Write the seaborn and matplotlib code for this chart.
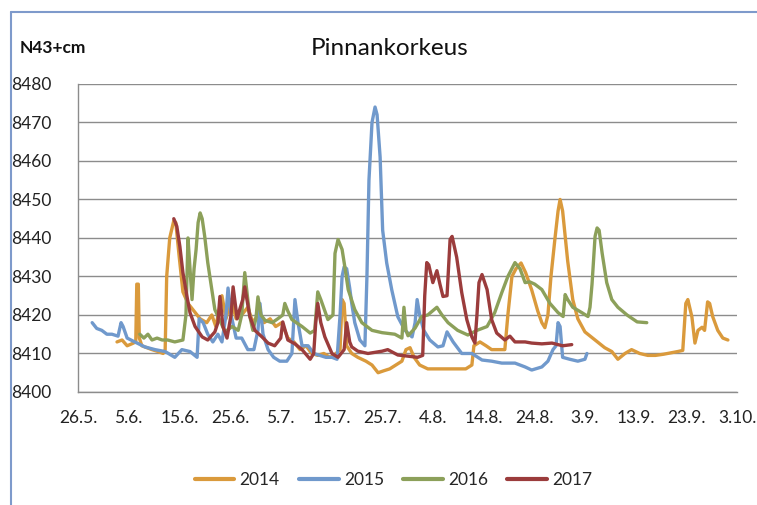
import matplotlib
matplotlib.use("Agg")
import matplotlib.pyplot as plt
from matplotlib.lines import Line2D
import pandas as pd
import seaborn as sns

# days counted from 26.5.
days_2014 = [7.7, 8.7, 9.7, 10.6, 11.4, 11.6, 11.9, 12.1, 12.6, 13.6, 14.6, 15.8, 16.8, 17.2, 17.5, 18.1,
             18.9, 19.3, 19.9, 20.7, 21.7, 22.9, 24.1, 25.4, 26.4, 27.2, 28.4, 29.2, 30.2, 31.2, 32.3, 33.5,
             34.5, 35.5, 36.7, 37.9, 39.0, 40.2, 41.4, 42.6, 43.8, 45.0, 46.1, 47.3, 48.5, 49.7, 50.9, 51.7,
             52.1, 52.5, 53.0, 54.0, 55.2, 56.8, 58.0, 59.2, 60.3, 61.5, 62.7, 63.9, 64.7, 65.5, 66.3, 67.4,
             69.0, 70.6, 72.6, 74.5, 76.5, 77.7, 78.1, 79.3, 80.5, 81.6, 83.2, 84.2, 84.8, 85.6, 86.4, 87.4,
             88.3, 89.5, 90.7, 91.5, 92.1, 92.7, 93.3, 94.1, 94.7, 95.1, 95.6, 96.6, 97.6, 98.6, 100.0, 102.0,
             103.9, 105.3, 106.5, 107.9, 109.2, 110.8, 112.4, 113.9, 115.5, 117.1, 118.3, 119.3, 119.9, 120.3,
             121.1, 121.7, 122.3, 123.1, 123.6, 124.2, 124.6, 125.2, 126.2, 127.2, 128.2]
level_2014 = [8413, 8413.5, 8412, 8412.5, 8413, 8428, 8428, 8414, 8412, 8411.5, 8411, 8410.5, 8410, 8411, 8430, 8440,
              8444.5, 8444, 8436, 8426, 8423, 8421, 8419, 8418, 8420, 8417, 8425, 8419, 8424, 8419, 8420, 8422,
              8418, 8420, 8418, 8419, 8417, 8418, 8414, 8413, 8411, 8412, 8410, 8409.5, 8410, 8409, 8410, 8411,
              8424, 8423, 8412, 8410, 8409, 8408, 8407, 8405, 8405.5, 8406, 8407, 8408, 8411, 8411.5, 8409, 8407,
              8406, 8406, 8406, 8406, 8406, 8407, 8412, 8413, 8412, 8411, 8411, 8411, 8420, 8430, 8432, 8433.5,
              8431, 8426.5, 8421, 8418, 8416.7, 8420, 8430, 8440, 8447, 8450, 8447, 8434, 8424, 8419, 8415.6, 8413.5,
              8411.5, 8410.5, 8408.5, 8410, 8411, 8410, 8409.5, 8409.5, 8409.8, 8410.2, 8410.5, 8410.8, 8423, 8424,
              8419.5, 8412.7, 8416, 8416.8, 8416, 8423.4, 8423, 8419.6, 8416, 8414, 8413.5]

days_2015 = [2.8, 3.7, 4.7, 5.7, 6.7, 7.9, 8.5, 8.9, 9.7, 11.2, 13.2, 15.2, 17.2, 19.1, 20.5, 22.1, 23.5, 23.9,
             24.7, 25.6, 26.6, 27.6, 28.4, 29.2, 29.6, 30.2, 31.2, 32.3, 33.5, 34.7, 35.5, 35.9, 36.5, 37.5,
             38.6, 39.8, 41.2, 42.2, 42.8, 43.4, 44.2, 45.4, 46.5, 47.7, 48.9, 50.1, 51.1, 51.7, 52.1, 52.5,
             53.0, 53.6, 54.0, 54.6, 55.6, 56.6, 57.0, 57.4, 58.0, 58.6, 59.0, 59.6, 60.1, 60.9, 61.9, 63.1,
             64.5, 65.9, 66.5, 66.9, 67.4, 68.2, 69.4, 71.0, 72.0, 72.8, 74.0, 75.7, 77.7, 79.7, 81.6, 83.6,
             86.2, 88.2, 89.5, 91.5, 92.7, 93.7, 94.3, 94.7, 95.1, 95.6, 97.0, 98.6, 100.0, 100.4]
level_2015 = [8418, 8416.5, 8416, 8415, 8415, 8414.5, 8418, 8417, 8414, 8413, 8411.7, 8411, 8410.5, 8409, 8411, 8410.5, 8409, 8419,
              8418, 8415, 8413, 8415, 8413, 8420, 8427, 8420, 8414, 8414, 8411, 8411, 8416, 8423, 8415, 8411,
              8409, 8408, 8408, 8410, 8424, 8418, 8412, 8412, 8410, 8409.5, 8409, 8409, 8408.5, 8420, 8430, 8432.5,
              8432, 8427, 8423, 8418, 8413.5, 8412, 8430, 8455, 8470, 8474, 8472, 8461, 8442, 8433.5, 8426.5, 8419.5,
              8416, 8414.3, 8418, 8424, 8420, 8416, 8413.5, 8411.7, 8412, 8415.6, 8413, 8410, 8410, 8408.3, 8408, 8407.5,
              8407.5, 8406.5, 8405.7, 8406.5, 8408, 8411, 8412, 8418, 8417, 8409, 8408.5, 8408, 8408.5, 8410]

days_2016 = [12.2, 13.0, 13.8, 14.6, 15.6, 16.6, 17.7, 19.1, 20.7, 21.3, 21.7, 22.1, 22.5, 22.9, 23.3, 23.7,
             24.1, 24.5, 25.0, 25.6, 26.4, 27.0, 28.0, 29.0, 30.4, 31.6, 32.3, 32.9, 33.5, 33.9, 34.5, 35.1,
             35.5, 36.1, 36.9, 38.3, 39.4, 40.4, 40.8, 41.4, 42.2, 44.2, 45.8, 46.7, 47.3, 47.9, 49.3, 50.3,
             50.7, 51.3, 52.1, 52.7, 53.3, 54.6, 56.0, 58.0, 60.0, 62.5, 63.9, 64.3, 64.7, 65.1, 66.5, 67.8,
             69.0, 70.8, 71.8, 73.0, 74.9, 76.9, 78.7, 80.7, 82.2, 83.6, 84.8, 86.2, 87.2, 88.2, 89.1, 90.1,
             91.5, 93.1, 94.7, 95.7, 96.1, 96.6, 97.6, 99.4, 100.6, 101.0, 101.4, 102.0, 102.4, 102.8, 103.4, 104.3,
             105.3, 106.5, 108.3, 110.3, 112.2]
level_2016 = [8415, 8414, 8415, 8413.5, 8414, 8413.5, 8413.5, 8413, 8413.5, 8420, 8440, 8432, 8424, 8432, 8437, 8444,
              8446.5, 8445, 8440.4, 8433.6, 8426.6, 8421.4, 8418.6, 8415.6, 8417, 8416, 8420, 8431, 8424, 8419.6, 8416, 8419,
              8424.7, 8420, 8418.6, 8418, 8419, 8420, 8423, 8421, 8418.8, 8417, 8415.3, 8416, 8426, 8424, 8418.8, 8420,
              8436, 8439.6, 8437, 8432, 8426.6, 8421.4, 8418, 8416, 8415.4, 8415, 8414, 8422, 8416, 8414.6, 8416.6, 8419.6,
              8420, 8422, 8420, 8418, 8416, 8414.8, 8416, 8417, 8420.6, 8425.8, 8430, 8433.6, 8432, 8428.4, 8428.6, 8428,
              8426.6, 8423, 8420.6, 8419.6, 8425.3, 8424, 8422, 8420.6, 8419.6, 8422, 8428, 8440.4, 8442.6, 8442, 8436, 8428.4,
              8424, 8422, 8420, 8418.2, 8418]

days_2017 = [18.9, 19.5, 20.1, 20.7, 21.5, 22.1, 23.1, 24.5, 25.6, 27.0, 27.6, 28.0, 28.6, 29.4, 30.2, 30.6,
             31.4, 31.9, 32.5, 32.9, 33.9, 34.9, 36.3, 37.5, 38.8, 40.0, 40.4, 41.4, 42.8, 44.2, 45.8, 46.5,
             46.9, 47.3, 47.9, 48.7, 50.1, 51.3, 52.5, 53.0, 53.6, 54.0, 55.2, 57.2, 60.0, 61.1, 63.1, 65.1,
             67.0, 68.0, 68.4, 68.8, 69.2, 70.0, 70.8, 71.4, 72.0, 72.8, 73.4, 73.8, 74.7, 75.7, 76.7, 77.7,
             78.3, 78.7, 79.1, 79.7, 80.7, 81.6, 82.6, 84.2, 85.2, 86.2, 88.2, 89.5, 91.5, 93.5, 95.6, 97.4]
level_2017 = [8445, 8443, 8437.8, 8431, 8424.8, 8420.6, 8417, 8414.3, 8413.5, 8415.6, 8418, 8424.8, 8417, 8414, 8420, 8427.3,
              8419, 8421.4, 8424, 8427.3, 8419.6, 8416, 8414.3, 8412.7, 8412, 8414, 8418.2, 8413.5, 8412.5, 8411, 8408.5, 8410,
              8418, 8423, 8418, 8414.3, 8410, 8409, 8411, 8418, 8413, 8411.7, 8410.6, 8410, 8410.6, 8411, 8409.6, 8409.3,
              8409, 8409.5, 8425, 8433.6, 8433, 8428.4, 8431.5, 8428, 8424.8, 8425, 8439.6, 8440.4, 8435, 8425.8, 8418.8, 8414.3,
              8412.7, 8420, 8428.4, 8430.5, 8426.6, 8418.8, 8415.3, 8413.5, 8414.5, 8413, 8413, 8412.7, 8412.5, 8412.7, 8412, 8412.3]

years = ["2014", "2015", "2016", "2017"]
colors = ["#DA9A3C", "#7099CC", "#8CA05A", "#9B3C3C"]
tick_days = list(range(0, 131, 10))
tick_labels = ["26.5.", "5.6.", "15.6.", "25.6.", "5.7.", "15.7.", "25.7.", "4.8.",
               "14.8.", "24.8.", "3.9.", "13.9.", "23.9.", "3.10."]
y_ticks = list(range(8400, 8481, 10))

frames = []
for yr, d, v in zip(years, [days_2014, days_2015, days_2016, days_2017],
                    [level_2014, level_2015, level_2016, level_2017]):
    frames.append(pd.DataFrame({"day": d, "level": v, "year": yr}))
df = pd.concat(frames, ignore_index=True)

sns.set_style("white")
plt.rcParams["font.family"] = ["Lato", "DejaVu Sans"]

fig = plt.figure(figsize=(7.57, 5.05), dpi=100)
ax = fig.add_axes([0.103, 0.2238, 0.8706, 0.61])

sns.lineplot(data=df, x="day", y="level", hue="year", palette=colors,
             estimator=None, sort=False, linewidth=2.4, ax=ax, legend=False)

ax.set_xlim(0, 130)
ax.set_ylim(8400, 8480)
ax.set_xticks(tick_days)
ax.set_xticklabels(tick_labels)
ax.set_yticks(y_ticks)
ax.yaxis.grid(True, color="#8c8c8c", linewidth=1.0)
ax.xaxis.grid(False)
ax.set_axisbelow(True)
for s in ["top", "right"]:
    ax.spines[s].set_visible(False)
for s in ["left", "bottom"]:
    ax.spines[s].set_color("#8c8c8c")
    ax.spines[s].set_linewidth(1.0)
ax.tick_params(axis="both", direction="out", length=5, width=1, color="#8c8c8c",
               labelsize=12.5, labelcolor="#222222")
ax.tick_params(axis="y", pad=14)
ax.tick_params(axis="x", pad=8)
ax.set_xlabel("")
ax.set_ylabel("")

fig.text(0.515, 0.903, "Pinnankorkeus", ha="center", va="center", fontsize=17.5, color="#111111")
fig.text(0.026, 0.905, "N43+cm", ha="left", va="center", fontsize=12.5, fontweight="bold", color="#111111")

handles = [Line2D([0], [0], color=c, linewidth=3) for c in colors]
fig.legend(handles, years, loc="center", bbox_to_anchor=(0.52, 0.05), ncol=4, frameon=False,
           fontsize=12.5, handlelength=2.3, handletextpad=0.3, columnspacing=1.1)

# chart-area border, left and top edges
border = "#7E9ACB"
fig.add_artist(Line2D([11 / 757, 11 / 757], [0, 1 - 12 / 505], color=border, linewidth=1.5))
fig.add_artist(Line2D([11 / 757, 1], [1 - 12 / 505, 1 - 12 / 505], color=border, linewidth=1.5))

fig.savefig("out.png", dpi=100)
